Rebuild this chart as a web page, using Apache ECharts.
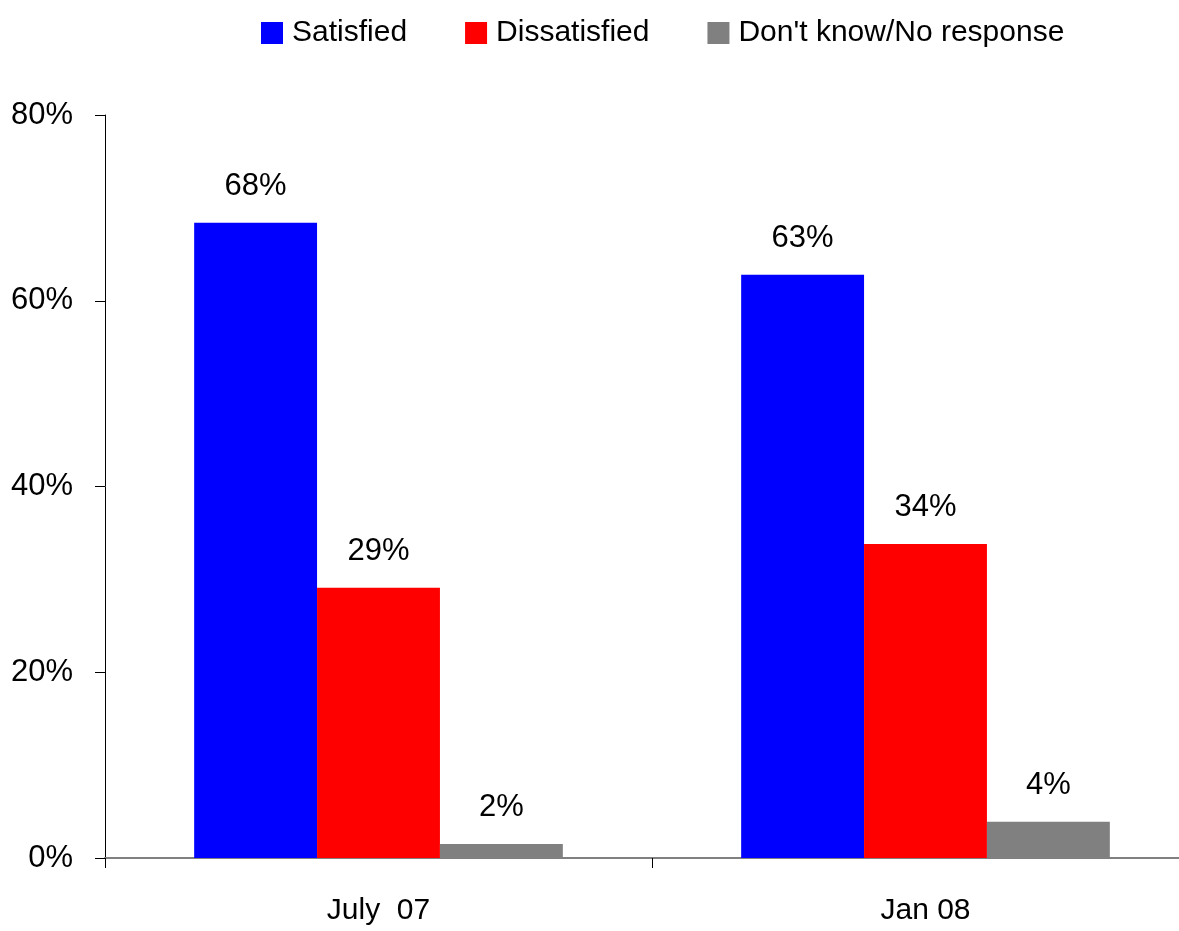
<!DOCTYPE html>
<html><head><meta charset="utf-8">
<script src="https://cdn.jsdelivr.net/npm/echarts@6/dist/echarts.min.js"></script>
<style>html,body{margin:0;padding:0;background:#fff}#c{width:1179px;height:931px}</style>
</head><body><div id="c"></div>
<script>
const categories = ['July  07', 'Jan 08'];
const seriesNames = ['Satisfied', 'Dissatisfied', "Don't know/No response"];
const satisfied = [68.4, 62.8];
const dissatisfied = [29.1, 33.8];
const dontKnow = [1.5, 3.9];
const labelsSatisfied = ['68%', '63%'];
const labelsDissatisfied = ['29%', '34%'];
const labelsDontKnow = ['2%', '4%'];
const yTicks = [0, 20, 40, 60, 80];

const FONT = '"Liberation Sans Narrow", "Arial Narrow", "Liberation Sans", Arial, sans-serif';
const colors = ['#0000ff', '#ff0000', '#808080'];
const chart = echarts.init(document.getElementById('c'));
function mk(name, data, labels, color) {
  return {
    name, type: 'bar', data, barGap: '0%', barCategoryGap: '32.6%',
    itemStyle: { color },
    label: { show: true, position: 'top', distance: 21, color: '#000', fontFamily: FONT, fontSize: 31,
      formatter: p => labels[p.dataIndex] }
  };
}
chart.setOption({
  animation: false,
  textStyle: { fontFamily: FONT },
  legend: {
    top: 13, left: 256, itemGap: 58, itemWidth: 22, itemHeight: 22, icon: 'rect',
    textStyle: { fontFamily: FONT, fontSize: 30, color: '#000', padding: [0, 0, 0, 4] },
    data: seriesNames
  },
  grid: { left: 105, right: -20, top: 115, bottom: 73, outerBoundsMode: 'none', containLabel: false },
  xAxis: {
    type: 'category', data: categories,
    axisLine: { lineStyle: { color: '#808080', width: 2 } },
    axisTick: { show: true, length: 10, lineStyle: { color: '#000' } },
    axisLabel: { color: '#000', fontFamily: FONT, fontSize: 30, margin: 38 }
  },
  yAxis: {
    type: 'value', min: yTicks[0], max: yTicks[yTicks.length - 1], interval: 20,
    axisLine: { show: true, lineStyle: { color: '#000', width: 1 } },
    axisTick: { show: true, length: 10, lineStyle: { color: '#000' } },
    splitLine: { show: false },
    axisLabel: { color: '#000', fontFamily: FONT, fontSize: 31, margin: 32, formatter: '{value}%' }
  },
  series: [
    mk(seriesNames[0], satisfied, labelsSatisfied, colors[0]),
    mk(seriesNames[1], dissatisfied, labelsDissatisfied, colors[1]),
    mk(seriesNames[2], dontKnow, labelsDontKnow, colors[2])
  ]
});
</script></body></html>
